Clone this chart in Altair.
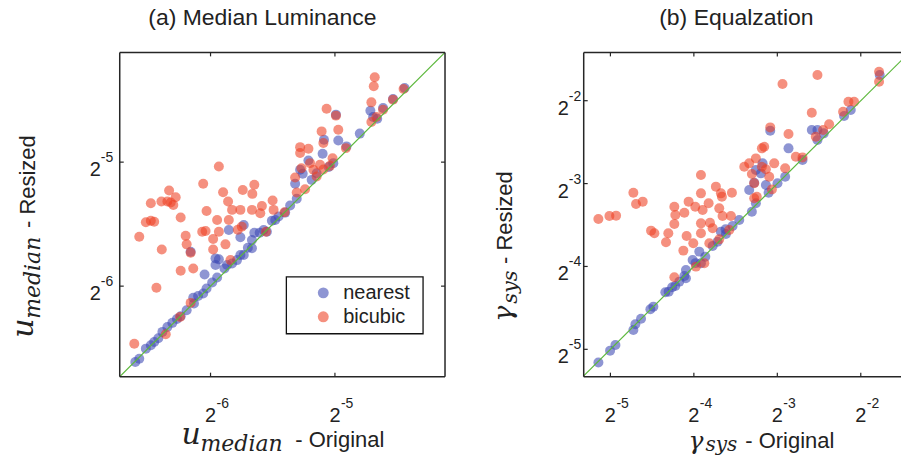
import altair as alt
import pandas as pd

METHODS = ["nearest", "bicubic"]
COLORS = ["#3d48b3", "#ee3f22"]
LINE_GREEN = "#5cb83c"
INK = "#222222"
SANS = "Liberation Sans"
MATH = "DejaVu Serif"

# (a) median luminance, log2 values: (original, resized)
A_NEAREST = [
    (-6.605, -6.612), (-6.573, -6.585), (-6.52, -6.504), (-6.48, -6.477), (-6.453, -6.45),
    (-6.42, -6.42), (-6.387, -6.369), (-6.347, -6.329), (-6.307, -6.296), (-6.27, -6.265),
    (-6.24, -6.243), (-6.192, -6.194), (-6.139, -6.094), (-6.133, -6.14), (-6.1, -6.08),
    (-6.059, -6.059), (-6.032, -6.019), (-5.987, -5.97), (-5.947, -5.93), (-6.048, -5.906),
    (-5.96, -5.83), (-5.96, -5.776), (-5.933, -5.784), (-5.888, -5.857), (-5.867, -5.83),
    (-5.827, -5.817), (-5.787, -5.79), (-5.76, -5.749), (-5.76, -5.606), (-5.733, -5.749),
    (-5.853, -5.547), (-5.733, -5.507), (-5.7, -5.69), (-5.667, -5.628), (-5.667, -5.695),
    (-5.648, -5.569), (-5.605, -5.569), (-5.573, -5.547), (-5.547, -5.561), (-5.507, -5.472),
    (-5.48, -5.466), (-5.453, -5.439), (-6.16, -5.722), (-5.4, -5.407), (-5.36, -5.35),
    (-5.307, -5.296), (-5.32, -5.175), (-5.28, -5.062), (-5.259, -5.094), (-5.213, -4.987),
    (-5.187, -5.143), (-5.147, -5.089), (-5.099, -4.933), (-5.088, -4.819), (-5.05, -5.04),
    (-5.013, -5.008), (-4.973, -4.825), (-4.992, -4.617), (-4.907, -4.873), (-4.8, -4.77),
    (-4.715, -4.585), (-4.693, -4.636), (-4.66, -4.65), (-4.613, -4.563), (-4.533, -4.491),
    (-4.44, -4.402),
]
A_BICUBIC = [
    (-6.613, -6.464), (-6.573, -5.601), (-6.52, -5.485), (-6.48, -5.472), (-6.453, -5.48),
    (-6.48, -5.332), (-6.395, -5.318), (-6.347, -5.318), (-6.32, -5.326), (-6.333, -5.229),
    (-6.28, -5.283), (-6.299, -5.345), (-6.24, -5.447), (-6.392, -5.704), (-6.435, -6.013),
    (-6.24, -5.876), (-6.2, -5.593), (-6.192, -5.663), (-6.16, -5.73), (-6.139, -5.857),
    (-6.16, -6.135), (-6.245, -6.248), (-6.36, -6.388), (-6.059, -5.175), (-6.032, -5.394),
    (-6.067, -5.561), (-6.04, -5.555), (-5.979, -5.62), (-5.979, -5.704), (-5.933, -5.035),
    (-5.899, -5.243), (-5.947, -5.466), (-5.933, -5.561), (-5.88, -5.663), (-5.859, -5.318),
    (-5.853, -5.466), (-5.827, -5.385), (-5.84, -5.79), (-5.741, -5.224), (-5.76, -5.385),
    (-5.781, -5.545), (-5.749, -5.52), (-5.648, -5.183), (-5.664, -5.256), (-5.667, -5.385),
    (-5.587, -5.353), (-5.6, -5.412), (-5.501, -5.31), (-5.493, -5.385), (-5.555, -5.561),
    (-5.405, -5.404), (-5.32, -5.124), (-5.307, -5.245), (-5.28, -4.879), (-5.28, -4.927),
    (-5.213, -4.892), (-5.269, -5.049), (-5.24, -5.218), (-5.2, -5.008), (-5.12, -5.022),
    (-5.107, -4.752), (-5.093, -4.846), (-5.147, -5.116), (-5.067, -4.569), (-5.04, -5.03),
    (-5.019, -4.968), (-4.973, -4.739), (-4.992, -4.625), (-4.912, -4.887), (-4.707, -4.518),
    (-4.688, -4.388), (-4.68, -4.315), (-4.707, -4.677), (-4.667, -4.636), (-4.613, -4.577),
    (-4.533, -4.496), (-4.448, -4.41), (-5.173, -5.062), (-5.093, -5.06),
]

# (b) equalization gamma_sys, log2 values: (original, resized)
B_NEAREST = [
    (-5.144, -5.16), (-5.004, -5.016), (-4.94, -4.947), (-4.725, -4.766), (-4.701, -4.698),
    (-4.633, -4.63), (-4.521, -4.517), (-4.485, -4.485), (-4.342, -4.312), (-4.302, -4.304),
    (-4.26, -4.25), (-4.222, -4.236), (-4.174, -4.183), (-4.114, -4.115), (-4.095, -4.043),
    (-4.095, -4.143), (-4.015, -3.922), (-3.98, -3.96), (-3.935, -3.821), (-3.915, -3.962),
    (-3.863, -3.882), (-3.775, -3.753), (-3.716, -3.701), (-3.676, -3.58), (-3.62, -3.55),
    (-3.616, -3.608), (-3.536, -3.512), (-3.456, -3.44), (-3.337, -3.078), (-3.305, -3.339),
    (-3.257, -3.238), (-3.277, -2.989), (-3.257, -2.836), (-3.177, -2.756), (-3.197, -2.877),
    (-3.137, -3.017), (-3.105, -3.11), (-2.998, -2.997), (-2.906, -2.917), (-3.085, -2.362),
    (-2.866, -2.575), (-2.698, -2.716), (-2.587, -2.354), (-2.519, -2.354), (-2.519, -2.474),
    (-2.443, -2.394), (-2.2, -2.185), (-2.12, -2.113), (-1.773, -1.69),
]
B_BICUBIC = [
    (-5.144, -3.427), (-5.012, -3.391), (-4.932, -3.387), (-4.725, -3.11), (-4.693, -3.246),
    (-4.613, -3.218), (-4.513, -3.568), (-4.473, -3.6), (-4.306, -3.6), (-4.334, -3.709),
    (-4.234, -3.279), (-4.222, -3.379), (-4.234, -3.488), (-4.114, -3.351), (-4.126, -3.809),
    (-4.063, -3.218), (-4.087, -3.632), (-3.983, -3.279), (-4.007, -3.721), (-3.915, -2.897),
    (-3.915, -3.118), (-3.915, -3.48), (-3.915, -3.6), (-3.895, -3.319), (-3.823, -3.238),
    (-3.807, -3.472), (-3.775, -3.54), (-3.736, -3.037), (-3.696, -3.299), (-3.676, -3.118),
    (-3.664, -3.158), (-3.656, -3.391), (-3.696, -3.673), (-3.544, -3.11), (-3.556, -3.391),
    (-3.576, -3.56), (-3.875, -3.962), (-3.975, -4.002), (-4.234, -4.131), (-3.337, -2.756),
    (-3.257, -2.696), (-3.305, -2.885), (-3.277, -2.997), (-3.246, -3.158), (-3.185, -2.796),
    (-3.157, -2.555), (-3.185, -2.575), (-3.037, -2.756), (-3.085, -2.322), (-3.097, -2.917),
    (-3.065, -3.07), (-2.938, -1.799), (-2.906, -2.816), (-2.866, -2.402), (-2.778, -2.676),
    (-2.698, -2.684), (-2.587, -2.145), (-2.519, -1.69), (-2.539, -2.434), (-2.451, -2.354),
    (-2.379, -2.285), (-2.212, -2.133), (-2.148, -2.012), (-2.08, -2.012), (-1.781, -1.65),
    (-1.781, -1.771), (-3.396, -2.796), (-3.137, -2.828), (-3.815, -3.721), (-3.277, -3.178),
]

A_DOMAIN = [-6.73, -4.115]
B_XDOMAIN = [-5.32, -1.518]
B_YDOMAIN = [-5.33, -1.417]
A_TICKS = [-6, -5]
B_TICKS = [-5, -4, -3, -2]

ONE = pd.DataFrame({"k": [0]})


def points_frame(nearest, bicubic):
    rows = []
    for name, pts in zip(METHODS, [nearest, bicubic]):
        for o, r in pts:
            rows.append({"orig": o, "resz": r, "method": name})
    return pd.DataFrame(rows)


def txt(text, x, y, size, font=SANS, style="normal", align="left",
        baseline="alphabetic", angle=0):
    return alt.Chart(ONE).mark_text(
        text=text, fontSize=size, font=font, fontStyle=style, align=align,
        baseline=baseline, angle=angle, color=INK,
    ).encode(x=alt.value(x), y=alt.value(y))


def rule(x, x2, y, y2):
    return alt.Chart(ONE).mark_rule(color="#262626", strokeWidth=1.5).encode(
        x=alt.value(x), x2=alt.value(x2), y=alt.value(y), y2=alt.value(y2)
    )


def panel(nearest, bicubic, xdom, ydom, xticks, yticks, W, H, title,
          ylab_x, xlab, ylab, right_side=True, legend=False):
    xs = alt.Scale(domain=xdom, nice=False, zero=False)
    ys = alt.Scale(domain=ydom, nice=False, zero=False)
    X = lambda f: alt.X(f, type="quantitative", scale=xs, axis=None)
    Y = lambda f: alt.Y(f, type="quantitative", scale=ys, axis=None)

    df = points_frame(nearest, bicubic)
    pts = alt.Chart(df).mark_circle(size=100, opacity=0.58).encode(
        x=X("orig"), y=Y("resz"),
        color=alt.Color("method:N", scale=alt.Scale(domain=METHODS, range=COLORS), legend=None),
    )

    lo, hi = min(xdom[0], ydom[0]), max(xdom[1], ydom[1])
    diag = alt.Chart(pd.DataFrame({"orig": [lo, hi], "resz": [lo, hi]})).mark_line(
        color=LINE_GREEN, strokeWidth=1.2, clip=True
    ).encode(x=X("orig"), y=Y("resz"))

    tx = pd.DataFrame({"v": xticks, "exp": [str(t) for t in xticks]})
    ty = pd.DataFrame({"v": yticks, "exp": [str(t) for t in yticks]})

    tick_style = dict(color="#262626", strokeWidth=1.2)
    ticks = [
        alt.Chart(tx).mark_rule(**tick_style).encode(x=X("v"), y=alt.value(H), y2=alt.value(H - 4)),
        alt.Chart(tx).mark_rule(**tick_style).encode(x=X("v"), y=alt.value(0), y2=alt.value(4)),
        alt.Chart(ty).mark_rule(**tick_style).encode(y=Y("v"), x=alt.value(0), x2=alt.value(4)),
    ]
    if right_side:
        ticks.append(alt.Chart(ty).mark_rule(**tick_style).encode(
            y=Y("v"), x=alt.value(W), x2=alt.value(W - 4)))

    frame = [rule(0, W, 0, 0), rule(0, W, H, H), rule(0, 0, 0, H)]
    if right_side:
        frame.append(rule(W, W, 0, H))

    labels = [
        alt.Chart(tx).mark_text(text="2", fontSize=20, font=SANS, align="center", color=INK)
        .encode(x=X("v"), y=alt.value(H + 39)),
        alt.Chart(tx).mark_text(fontSize=14, font=SANS, align="left", dx=6, color=INK)
        .encode(x=X("v"), y=alt.value(H + 27), text="exp:N"),
        alt.Chart(ty).mark_text(text="2", fontSize=20, font=SANS, align="right", dy=8, color=INK)
        .encode(y=Y("v"), x=alt.value(ylab_x)),
        alt.Chart(ty).mark_text(fontSize=14, font=SANS, align="left", dy=-4, color=INK)
        .encode(y=Y("v"), x=alt.value(ylab_x), text="exp:N"),
    ]

    head = [txt(title[0], title[1], -34, 23, align="center", baseline="middle")]

    layers = [pts, diag] + frame + ticks + labels + head + xlab + ylab
    if legend:
        lx, ly = 167, 225
        box = alt.Chart(ONE).mark_rect(fill="white", stroke="#111111", strokeWidth=1.3).encode(
            x=alt.value(lx), x2=alt.value(lx + 137), y=alt.value(ly), y2=alt.value(ly + 57))
        layers.append(box)
        for i, (name, col) in enumerate(zip(METHODS, COLORS)):
            yy = ly + 16 + 24 * i
            layers.append(alt.Chart(ONE).mark_circle(size=120, opacity=0.58, color=col).encode(
                x=alt.value(lx + 37), y=alt.value(yy)))
            layers.append(txt(name, lx + 57, yy, 20, baseline="middle"))

    return alt.layer(*layers).properties(width=W, height=H)


# panel (a)
WA, HA = 326, 325
a_xlab = [
    txt("u", 62, 392, 30, font=MATH, style="italic"),
    txt("median", 81, 399, 22, font=MATH, style="italic"),
    txt("- Original", 176, 395, 22),
]
a_ylab = [
    txt("u", -87, 286, 30, font=MATH, style="italic", angle=270),
    txt("median", -80, 267, 22, font=MATH, style="italic", angle=270),
    txt("- Resized", -85, 176, 22, angle=270),
]
pa = panel(A_NEAREST, A_BICUBIC, A_DOMAIN, A_DOMAIN, A_TICKS, A_TICKS, WA, HA,
           ("(a) Median Luminance", 143), -19, a_xlab, a_ylab, legend=True)

# panel (b)
WB, HB = 318, 325
b_xlab = [
    txt("\u03b3", 105, 397, 25, font=MATH, style="italic"),
    txt("sys", 122, 399, 20, font=MATH, style="italic"),
    txt("- Original", 162, 396, 22),
]
b_ylab = [
    txt("\u03b3", -72, 270, 27, font=MATH, style="italic", angle=270),
    txt("sys", -67, 252, 21, font=MATH, style="italic", angle=270),
    txt("- Resized", -72, 212, 22, angle=270),
]
pb = panel(B_NEAREST, B_BICUBIC, B_XDOMAIN, B_YDOMAIN, B_TICKS, B_TICKS, WB, HB,
           ("(b) Equalzation", 153), -15, b_xlab, b_ylab, right_side=False)

chart = alt.hconcat(pa, pb, spacing=139, bounds="flush").properties(
    padding={"left": 9, "top": 7, "right": 0, "bottom": 0},
    background="white",
).configure_view(stroke=None)

chart.save("out.html", embed_options={"renderer": "svg", "actions": False})
